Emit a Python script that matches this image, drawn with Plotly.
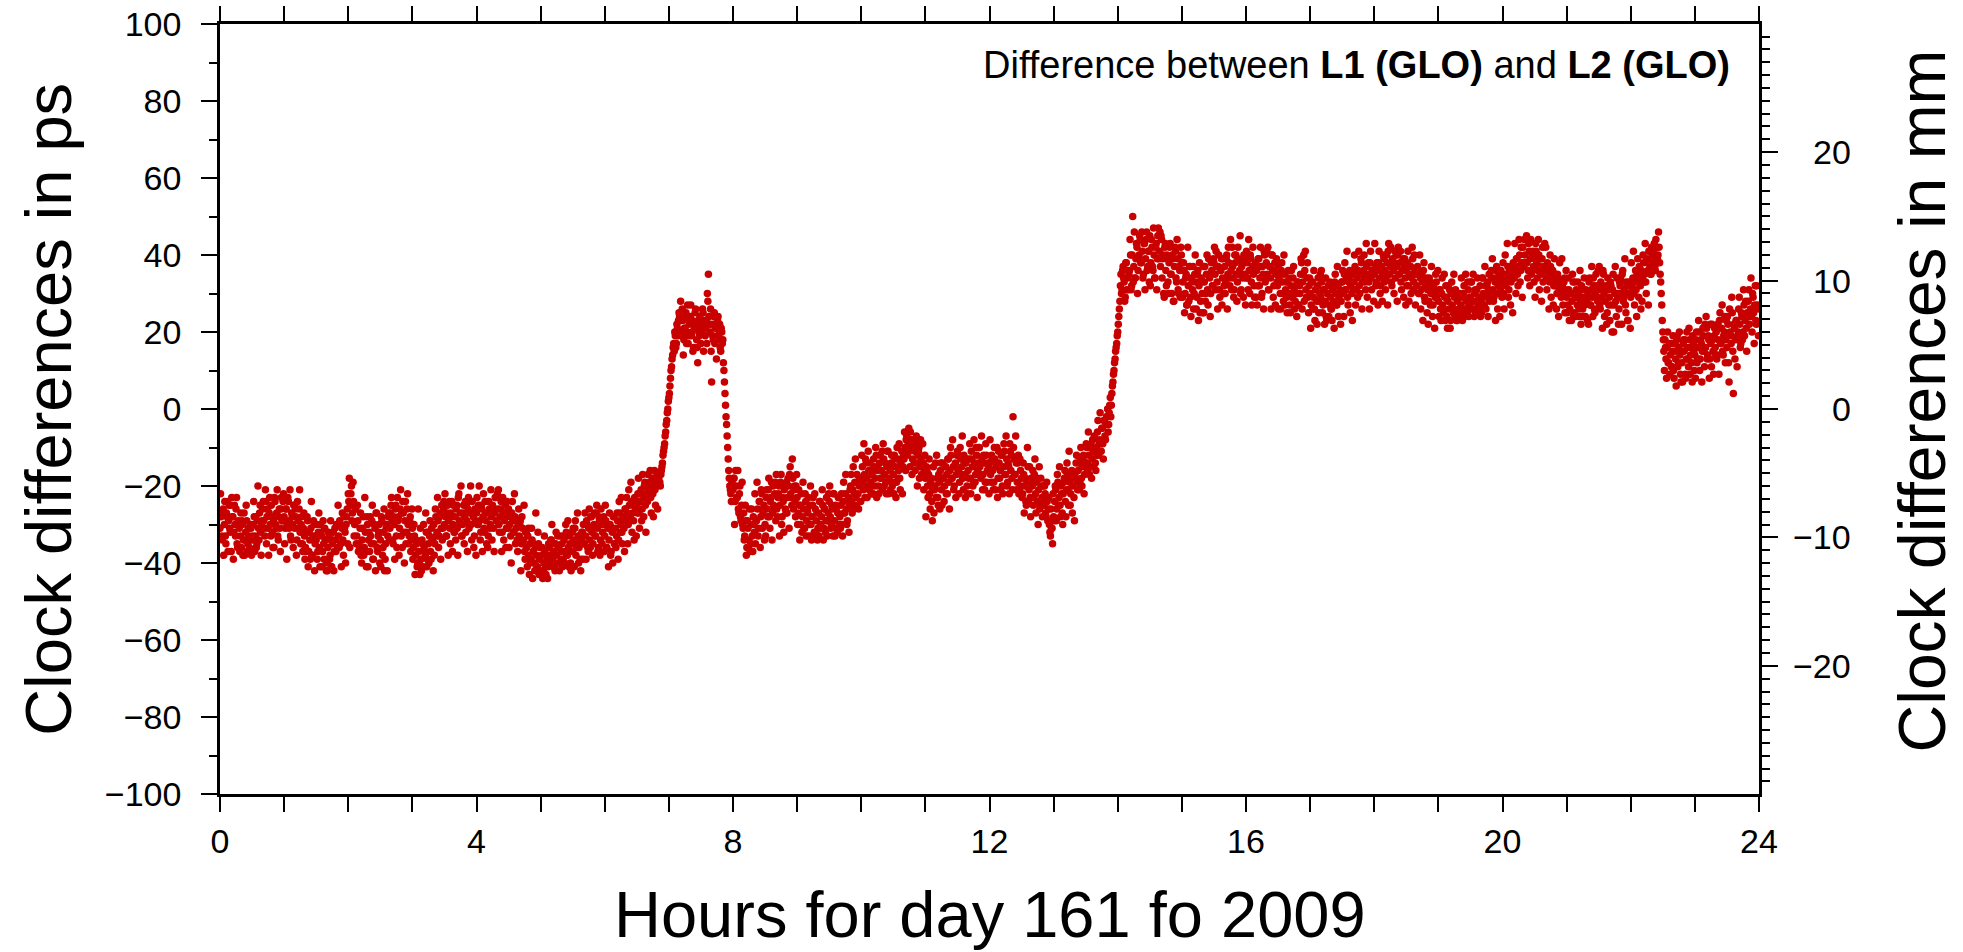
import numpy as np
import plotly.graph_objects as go

# L1 - L2 (GLONASS) clock differences in ps.
# hNN: samples on the full minute of hour NN, hNNb: samples at half past the minute.
h00 = [-31,-28,-34,-26,-30,-33,-27,-24,-29,-31,-25,-23,-28,-32,-30,-26,-35,-29,-31,-33,
       -36,-30,-34,-38,-32,-29,-35,-33,-37,-31,-34,-30,-28,-33,-36,-29,-31,-27,-32,-30,
       -26,-29,-33,-24,-28,-31,-27,-30,-25,-32,-29,-23,-30,-27,-33,-28,-31,-26,-29,-24]
h01 = [-28,-31,-26,-30,-24,-29,-33,-27,-30,-25,-31,-28,-34,-29,-26,-32,-30,-35,-31,-33,
       -36,-32,-29,-37,-34,-31,-38,-33,-30,-35,-34,-39,-32,-36,-30,-33,-37,-35,-31,-34,
       -40,-36,-33,-38,-41,-35,-32,-37,-34,-30,-36,-33,-29,-35,-31,-34,-28,-32,-30,-26]
h02 = [-22,-18,-25,-20,-27,-24,-30,-26,-33,-29,-35,-31,-38,-34,-28,-36,-32,-41,-30,-34,
       -37,-33,-29,-39,-35,-31,-27,-36,-33,-30,-34,-28,-38,-32,-42,-35,-30,-33,-27,-31,
       -25,-29,-35,-30,-26,-33,-23,-28,-31,-21,-27,-24,-32,-29,-35,-26,-30,-33,-28,-34]
h03 = [-31,-36,-33,-38,-35,-40,-37,-43,-39,-34,-41,-36,-38,-32,-39,-35,-33,-37,-31,-34,
       -30,-35,-28,-32,-29,-33,-27,-31,-34,-26,-30,-28,-33,-25,-29,-31,-27,-24,-30,-32,
       -28,-26,-31,-23,-29,-27,-33,-30,-25,-28,-32,-29,-26,-31,-27,-30,-24,-28,-33,-29]
h04 = [-27,-30,-25,-29,-32,-26,-28,-31,-24,-29,-27,-33,-26,-30,-28,-25,-31,-27,-23,-29,
       -26,-30,-28,-24,-32,-27,-29,-25,-31,-28,-26,-30,-33,-27,-29,-32,-28,-31,-34,-30,
       -33,-29,-35,-31,-34,-37,-32,-36,-33,-38,-35,-39,-34,-37,-40,-36,-38,-41,-35,-39]
h05 = [-42,-38,-44,-40,-37,-43,-39,-41,-36,-38,-34,-39,-37,-41,-35,-38,-33,-36,-40,-37,
       -35,-39,-34,-37,-32,-38,-36,-33,-40,-35,-37,-34,-31,-38,-35,-33,-36,-39,-34,-32,
       -30,-35,-33,-29,-36,-31,-34,-28,-32,-35,-30,-33,-27,-31,-36,-29,-34,-30,-32,-28]
h06 = [-33,-29,-36,-31,-34,-30,-37,-32,-28,-35,-31,-33,-29,-34,-27,-30,-32,-28,-31,-26,
       -29,-27,-30,-25,-28,-24,-27,-29,-23,-26,-25,-22,-27,-24,-21,-26,-23,-20,-25,-22,
       -24,-21,-19,-23,-20,-22,-18,-21,-19,-17,-19,-17,-20,-16,-14,-11,-9,-6,-3,0]
h07 = [3,6,10,13,16,15,19,17,21,23,24,28,19,23,18,21,25,20,17,22,
       24,19,23,16,21,26,18,12,20,24,17,21,25,22,19,23,30,35,22,26,
       7,19,24,17,22,18,24,20,16,21,17,12,7,1,-4,-10,-16,-20,-22,-19]
h08 = [-21,-18,-24,-20,-23,-26,-22,-28,-25,-30,-27,-33,-29,-36,-31,-34,-37,-30,-33,-28,
       -32,-35,-29,-26,-31,-24,-28,-22,-27,-25,-30,-23,-26,-21,-28,-24,-19,-27,-25,-22,
       -29,-26,-23,-20,-25,-17,-28,-24,-21,-26,-19,-23,-20,-17,-22,-25,-18,-21,-24,-20]
h09 = [-23,-27,-25,-30,-22,-28,-26,-31,-24,-29,-27,-33,-25,-30,-28,-23,-32,-26,-29,-34,
       -27,-24,-30,-28,-25,-31,-26,-29,-33,-27,-24,-28,-30,-26,-22,-29,-25,-31,-27,-23,
       -28,-25,-30,-24,-27,-22,-26,-29,-23,-25,-20,-24,-21,-26,-19,-23,-17,-22,-20,-18]
h10 = [-19,-15,-21,-17,-13,-18,-20,-16,-14,-19,-17,-22,-15,-18,-12,-16,-20,-14,-18,-16,
       -21,-13,-17,-19,-15,-11,-18,-16,-14,-20,-17,-12,-15,-19,-13,-16,-18,-14,-11,-15,
       -13,-10,-8,-12,-9,-11,-6,-10,-13,-8,-11,-9,-14,-12,-10,-15,-13,-17,-14,-16]
h11 = [-18,-15,-20,-17,-22,-19,-24,-21,-27,-20,-23,-18,-25,-19,-16,-21,-14,-18,-20,-15,
       -17,-13,-19,-16,-12,-18,-15,-20,-14,-17,-11,-16,-19,-13,-15,-18,-12,-17,-14,-20,
       -16,-13,-18,-11,-15,-19,-14,-17,-12,-16,-10,-15,-18,-13,-17,-14,-19,-12,-16,-15]
h12 = [-14,-17,-12,-16,-19,-13,-15,-10,-18,-14,-16,-12,-20,-15,-11,-17,-13,-19,-15,-9,
       -16,-18,-2,-13,-17,-14,-19,-12,-21,-16,-18,-22,-17,-20,-24,-19,-15,-21,-23,-18,
       -20,-25,-17,-22,-19,-24,-21,-26,-18,-23,-20,-25,-22,-28,-24,-26,-30,-33,-31,-35]
h13 = [-28,-24,-21,-26,-19,-23,-25,-20,-27,-22,-18,-24,-21,-17,-25,-19,-22,-16,-20,-23,
       -17,-14,-19,-16,-21,-13,-18,-15,-12,-17,-14,-10,-16,-12,-15,-9,-13,-11,-7,-14,
       -10,-6,-12,-8,-11,-5,-9,-3,-7,-4,-2,-6,-1,3,1,6,9,12,15,17]
h14 = [20,24,28,35,31,37,33,29,38,34,31,36,40,32,50,37,34,39,42,36,
       40,44,38,41,35,43,39,46,37,41,45,38,42,36,40,34,43,39,47,41,
       37,44,39,30,42,36,40,33,38,43,35,40,28,37,41,33,39,30,36,42]
h15 = [38,33,36,30,35,27,32,37,29,34,31,26,35,33,29,36,32,25,34,30,
       37,33,28,35,31,39,34,30,36,32,38,35,41,33,37,31,36,39,34,30,
       37,33,40,35,38,32,36,42,34,31,38,35,33,39,36,30,37,34,40,35]
h16 = [34,38,31,36,40,33,37,35,29,38,36,32,39,34,37,30,35,41,33,38,
       35,31,37,34,40,36,32,38,35,33,37,34,30,36,33,28,35,31,29,33,
       30,27,32,29,34,31,28,30,33,27,32,35,38,33,40,36,31,34,29,32]
h17 = [30,27,33,29,26,31,28,32,25,30,29,33,27,31,28,24,30,32,27,29,
       26,31,28,33,30,27,32,29,31,28,33,30,35,31,34,29,33,36,32,30,
       35,33,37,31,34,36,32,35,38,33,36,34,31,37,35,33,38,34,36,35]
h18 = [35,37,33,36,38,34,32,37,35,39,36,34,38,41,35,37,33,39,36,38,
       34,37,40,35,38,33,36,39,37,34,36,38,32,35,37,34,39,33,36,35,
       32,35,30,34,31,33,36,29,32,34,31,28,33,30,32,27,31,29,33,30]
h19 = [28,31,26,30,27,25,29,32,24,28,26,21,30,27,25,29,31,23,28,26,
       30,27,24,29,32,26,28,25,31,27,29,33,26,28,30,25,31,27,29,32,
       28,34,30,27,32,29,33,31,28,30,34,31,29,33,36,30,32,35,31,34]
h20 = [33,30,35,32,34,37,31,36,33,35,38,34,36,39,35,37,40,36,38,42,
       37,40,44,38,36,41,39,35,40,37,39,43,38,36,40,37,35,39,33,37,
       36,34,38,35,33,37,34,36,32,35,33,30,34,31,33,29,32,30,34,31]
h21 = [29,27,31,26,30,28,33,25,29,31,27,30,24,28,32,26,29,27,31,28,
       30,33,27,31,29,34,26,30,32,28,31,27,33,29,36,30,28,32,25,31,
       29,33,27,31,20,30,28,34,29,26,32,30,35,28,31,27,33,23,30,32]
h22 = [29,32,34,30,33,31,35,33,37,32,36,34,38,35,33,39,36,41,37,35,
       40,38,43,36,42,39,46,38,33,27,20,15,18,13,16,12,17,14,11,15,
       10,15,13,18,11,16,14,7,12,17,15,9,13,16,11,18,14,12,19,15]
h23 = [14,18,12,16,20,13,17,15,19,11,16,21,14,18,13,17,22,15,19,16,
       20,14,18,23,17,21,15,19,24,18,16,22,7,20,17,25,4,21,18,23,
       19,26,22,17,24,20,27,23,21,25,28,22,26,24,30,25,27,23,32,26]

h00b = [-22,-33,-27,-38,-24,-35,-28,-37,-25,-32,-37,-28,-39,-25,-33,-23,-36,-30,-37,-27,
        -29,-38,-27,-34,-25,-37,-31,-36,-30,-38,-33,-24,-37,-28,-35,-20,-34,-25,-38,-29,
        -24,-31,-21,-35,-26,-38,-23,-33,-28,-36,-36,-24,-31,-21,-34,-26,-37,-23,-29,-22]
h01b = [-35,-26,-39,-23,-31,-21,-34,-28,-36,-25,-26,-38,-24,-31,-21,-35,-28,-37,-27,-39,
        -37,-28,-41,-32,-39,-24,-38,-29,-42,-33,-30,-37,-27,-41,-32,-41,-29,-39,-34,-42,
        -42,-32,-39,-29,-41,-34,-42,-31,-37,-30,-25,-36,-30,-41,-27,-38,-31,-40,-28,-35]
h02b = [-24,-36,-22,-29,-19,-33,-26,-35,-25,-37,-36,-27,-40,-31,-38,-23,-37,-28,-41,-32,
        -28,-35,-25,-39,-30,-42,-27,-37,-32,-40,-41,-29,-36,-26,-39,-31,-42,-28,-34,-27,
        -23,-34,-28,-39,-25,-36,-29,-38,-26,-33,-36,-27,-40,-24,-32,-22,-35,-29,-37,-26]
h03b = [-39,-30,-43,-34,-41,-26,-40,-31,-42,-35,-30,-37,-27,-41,-32,-40,-29,-39,-34,-42,
        -38,-26,-33,-23,-36,-28,-39,-25,-31,-24,-22,-33,-27,-38,-24,-35,-28,-37,-25,-32,
        -34,-25,-38,-22,-30,-20,-33,-27,-35,-24,-25,-37,-23,-30,-20,-34,-27,-36,-26,-38]
h04b = [-23,-30,-20,-34,-25,-37,-22,-32,-27,-35,-36,-24,-31,-21,-34,-26,-37,-23,-29,-22,
        -21,-32,-26,-37,-23,-34,-27,-36,-24,-31,-36,-27,-40,-24,-32,-22,-35,-29,-37,-26,
        -30,-42,-28,-35,-25,-39,-32,-41,-31,-43,-40,-31,-44,-35,-42,-27,-41,-32,-43,-36]
h05b = [-43,-36,-42,-33,-41,-38,-44,-35,-40,-34,-30,-41,-35,-42,-32,-40,-36,-42,-33,-39,
        -41,-33,-40,-30,-38,-29,-41,-35,-42,-32,-31,-41,-29,-36,-27,-40,-33,-42,-32,-39,
        -35,-27,-39,-30,-37,-26,-36,-28,-38,-31,-27,-33,-25,-37,-28,-38,-26,-35,-30,-37]
h06b = [-25,-36,-30,-41,-27,-38,-31,-40,-28,-35,-36,-27,-39,-24,-32,-23,-35,-29,-37,-26,
        -23,-35,-21,-28,-19,-32,-25,-34,-24,-33,-27,-18,-31,-22,-29,-17,-28,-19,-32,-23,
        -17,-23,-16,-27,-18,-28,-16,-25,-20,-26,-18,-19,-17,-15,-12,-10,-7,-4,-1,2]
h07b = [4,8,11,14,17,20,16,22,19,25,20,23,26,14,21,24,17,27,19,23,
        27,20,15,22,25,21,16,23,19,22,20,26,15,23,21,17,28,24,20,15,
        22,18,25,21,13,23,19,22,15,20,18,10,4,-2,-7,-13,-18,-21,-24,-20]
h08b = [-18,-30,-16,-23,-16,-27,-20,-29,-19,-31,-34,-25,-38,-29,-36,-26,-35,-26,-37,-30,
        -22,-29,-19,-33,-24,-36,-21,-31,-26,-34,-33,-21,-28,-18,-31,-23,-34,-20,-26,-19,
        -17,-28,-22,-33,-19,-30,-23,-32,-20,-27,-27,-18,-31,-15,-23,-13,-26,-20,-28,-17]
h09b = [-30,-21,-34,-25,-32,-19,-31,-22,-33,-26,-23,-30,-20,-34,-25,-33,-22,-32,-27,-31,
        -33,-24,-31,-21,-34,-26,-32,-23,-29,-22,-20,-31,-25,-33,-22,-33,-26,-32,-23,-30,
        -31,-22,-33,-19,-27,-17,-30,-24,-32,-21,-17,-27,-15,-22,-13,-25,-19,-26,-18,-24]
h10b = [-12,-19,-9,-23,-14,-23,-11,-21,-16,-22,-22,-13,-20,-10,-23,-15,-22,-12,-18,-11,
        -9,-20,-14,-22,-11,-22,-15,-21,-12,-19,-22,-13,-23,-10,-18,-9,-21,-15,-22,-12,
        -6,-16,-7,-11,-5,-15,-8,-17,-9,-14,-16,-7,-20,-11,-18,-8,-17,-9,-21,-12]
h11b = [-28,-16,-23,-13,-26,-18,-29,-15,-21,-14,-12,-23,-17,-26,-14,-25,-18,-24,-15,-22,
        -22,-13,-26,-10,-18,-8,-21,-15,-23,-12,-12,-22,-10,-17,-7,-21,-14,-23,-13,-22,
        -18,-9,-22,-13,-20,-8,-19,-10,-23,-14,-10,-17,-7,-21,-12,-21,-9,-19,-14,-22]
h12b = [-8,-19,-13,-21,-10,-21,-14,-23,-11,-18,-21,-12,-22,-9,-17,-7,-20,-14,-22,-11,
        -12,-21,-10,-17,-7,-21,-14,-22,-13,-20,-23,-14,-27,-18,-25,-10,-24,-15,-28,-19,
        -16,-23,-13,-27,-18,-30,-15,-25,-20,-28,-24,-20,-27,-19,-29,-23,-32,-26,-31,-22]
h13b = [-29,-20,-29,-17,-25,-15,-28,-22,-30,-19,-16,-28,-14,-21,-11,-25,-18,-27,-17,-29,
        -18,-12,-21,-14,-19,-10,-20,-13,-22,-15,-9,-14,-6,-17,-10,-18,-8,-15,-11,-16,
        -12,-3,-9,-1,-11,-5,-13,-3,-8,-2,0,-4,1,-2,4,7,10,13,16,19]
h14b = [22,26,32,30,36,34,28,38,31,36,35,44,31,40,33,46,34,43,30,39,
        45,38,46,34,43,31,44,36,41,33,32,44,37,47,34,42,31,45,39,46,
        45,34,40,29,43,32,39,30,42,35,30,39,28,42,34,44,31,37,29,40]
h15b = [29,38,25,34,27,42,28,37,24,33,37,30,40,26,35,23,38,28,33,25,
        25,37,30,40,27,35,24,38,32,39,42,31,37,26,40,29,36,27,39,32,
        30,39,26,42,34,44,31,37,29,40,40,28,42,35,45,31,38,29,39,27]
h16b = [41,34,44,30,39,27,42,32,37,29,27,39,32,42,29,37,26,40,34,41,
        42,31,37,26,40,29,36,27,39,32,26,35,26,38,30,40,27,33,25,36,
        34,25,36,29,37,26,32,24,33,27,30,39,26,35,28,41,29,38,25,34]
h17b = [21,33,26,36,23,31,22,34,28,35,36,25,31,22,34,23,30,24,33,26,
        23,32,21,35,27,37,24,30,22,33,36,24,38,31,41,27,34,25,35,23,
        31,40,27,36,29,41,30,39,26,35,40,33,43,29,38,26,41,31,36,28]
h18b = [43,32,38,27,41,30,37,28,40,33,31,40,27,43,35,42,32,38,30,41,
        40,28,42,35,41,31,38,29,39,27,32,41,28,37,30,42,31,40,27,36,
        37,30,40,26,35,23,38,28,33,25,22,34,27,37,24,32,21,35,29,36]
h19b = [24,31,23,34,26,35,23,29,21,32,31,23,33,26,35,24,29,23,30,25,
        25,34,23,30,24,35,26,33,24,29,33,26,35,24,31,25,34,26,29,24,
        25,34,27,37,26,32,24,35,29,36,39,28,34,23,37,26,33,24,36,29]
h20b = [38,26,40,33,43,29,36,27,37,25,34,43,30,39,32,44,33,42,29,38,
        44,38,45,34,43,32,44,36,41,33,29,41,34,44,31,39,28,42,36,43,
        42,31,37,26,40,29,36,27,39,32,26,35,24,38,30,39,27,33,25,36]
h21b = [25,34,23,30,23,35,24,33,24,29,33,26,36,22,31,24,34,24,29,23,
        22,34,27,37,24,32,25,35,29,36,37,26,32,21,35,24,31,22,34,27,
        23,32,20,35,27,37,24,30,22,33,34,22,36,29,39,25,32,23,33,21]
h22b = [38,31,41,27,36,24,39,29,34,26,28,40,33,43,30,38,27,41,35,42,
        39,41,37,44,38,40,42,35,30,23,18,10,16,8,20,12,9,17,11,19,
        8,17,6,19,12,20,9,15,7,18,18,8,20,13,21,9,16,7,17,10]
h23b = [8,20,13,23,10,18,7,21,15,22,24,13,19,8,22,11,18,9,21,14,
        13,22,9,25,17,27,14,20,12,23,24,12,26,19,29,15,22,13,23,11,
        20,29,16,25,18,31,19,28,15,24,31,24,34,20,29,17,32,22,27,19]

on_minute = [h00, h01, h02, h03, h04, h05, h06, h07, h08, h09, h10, h11,
             h12, h13, h14, h15, h16, h17, h18, h19, h20, h21, h22, h23]
half_past = [h00b, h01b, h02b, h03b, h04b, h05b, h06b, h07b, h08b, h09b, h10b, h11b,
             h12b, h13b, h14b, h15b, h16b, h17b, h18b, h19b, h20b, h21b, h22b, h23b]

diff_a = np.concatenate([np.array(h, dtype=float) for h in on_minute])
diff_b = np.concatenate([np.array(h, dtype=float) for h in half_past])
diff_ps = np.empty(diff_a.size + diff_b.size)
diff_ps[0::2] = diff_a
diff_ps[1::2] = diff_b
hours = np.arange(diff_ps.size) / 120.0  # 30 s sampling

x_ticks = [0, 4, 8, 12, 16, 20, 24]
ps_ticks = [-100, -80, -60, -40, -20, 0, 20, 40, 60, 80, 100]
mm_ticks = [-20, -10, 0, 10, 20]
C_MM_PER_PS = 0.299792458  # light travel distance per picosecond

FONT = "Liberation Sans, Arial, Helvetica, sans-serif"
RED = "#c80000"
TICK_FONT = dict(family=FONT, size=34, color="black")

fig = go.Figure()
fig.add_trace(go.Scatter(
    x=hours, y=diff_ps, mode="markers",
    marker=dict(color=RED, size=7.5, line=dict(width=0)),
    showlegend=False, hoverinfo="skip",
))
# invisible trace to activate the mm axis
fig.add_trace(go.Scatter(x=[None], y=[None], yaxis="y2", showlegend=False))

axis_common = dict(
    showgrid=False, zeroline=False, showline=True, linecolor="black", linewidth=2.5,
    ticks="outside", tickcolor="black", tickwidth=1.6,
)

fig.update_layout(
    width=1963, height=952,
    margin=dict(l=220, r=204, t=24, b=158, autoexpand=False),
    paper_bgcolor="white", plot_bgcolor="white",
    font=dict(family=FONT, color="black"),
    xaxis=dict(
        **axis_common, range=[0, 24], tickmode="array", tickvals=x_ticks,
        ticklen=15, mirror="allticks", tickfont=TICK_FONT, ticklabelstandoff=0,
        minor=dict(dtick=1, tick0=0, ticks="outside", ticklen=8, tickwidth=1.6, tickcolor="black"),
    ),
    yaxis=dict(
        **axis_common, range=[-100, 100], tickmode="array", tickvals=ps_ticks,
        ticklen=16, tickfont=TICK_FONT, ticklabelstandoff=13,
        minor=dict(dtick=10, tick0=0, ticks="outside", ticklen=8, tickwidth=1.6, tickcolor="black"),
    ),
    yaxis2=dict(
        **axis_common, overlaying="y", side="right",
        range=[-100 * C_MM_PER_PS, 100 * C_MM_PER_PS],
        tickmode="linear", tick0=0, dtick=10, ticklen=16, showticklabels=False,
        minor=dict(dtick=1, tick0=0, ticks="outside", ticklen=8, tickwidth=1.6, tickcolor="black"),
    ),
)

annotations = [
    dict(text="Clock differences in ps", xref="paper", yref="paper",
         x=-0.112, y=0.5, xanchor="center", yanchor="middle", textangle=-90,
         showarrow=False, font=dict(family=FONT, size=65, color="black")),
    dict(text="Clock differences in mm", xref="paper", yref="paper",
         x=1.106, y=0.51, xanchor="center", yanchor="middle", textangle=-90,
         showarrow=False, font=dict(family=FONT, size=66, color="black")),
    dict(text="Hours for day 161 fo 2009", xref="paper", yref="paper",
         x=0.5, y=-0.157, xanchor="center", yanchor="middle",
         showarrow=False, font=dict(family=FONT, size=65, color="black")),
    dict(text="Difference between <b>L1 (GLO)</b> and <b>L2 (GLO)</b>",
         xref="paper", yref="paper", x=0.9825, y=0.9468,
         xanchor="right", yanchor="middle", showarrow=False,
         font=dict(family=FONT, size=38, color="black")),
]
for v in mm_ticks:
    annotations.append(dict(
        text=str(v).replace("-", "\u2212"), xref="paper", yref="y2",
        x=1, y=v, xshift=94, xanchor="right", yanchor="middle",
        showarrow=False, font=TICK_FONT,
    ))
fig.update_layout(annotations=annotations)

fig.write_html("out.html")
